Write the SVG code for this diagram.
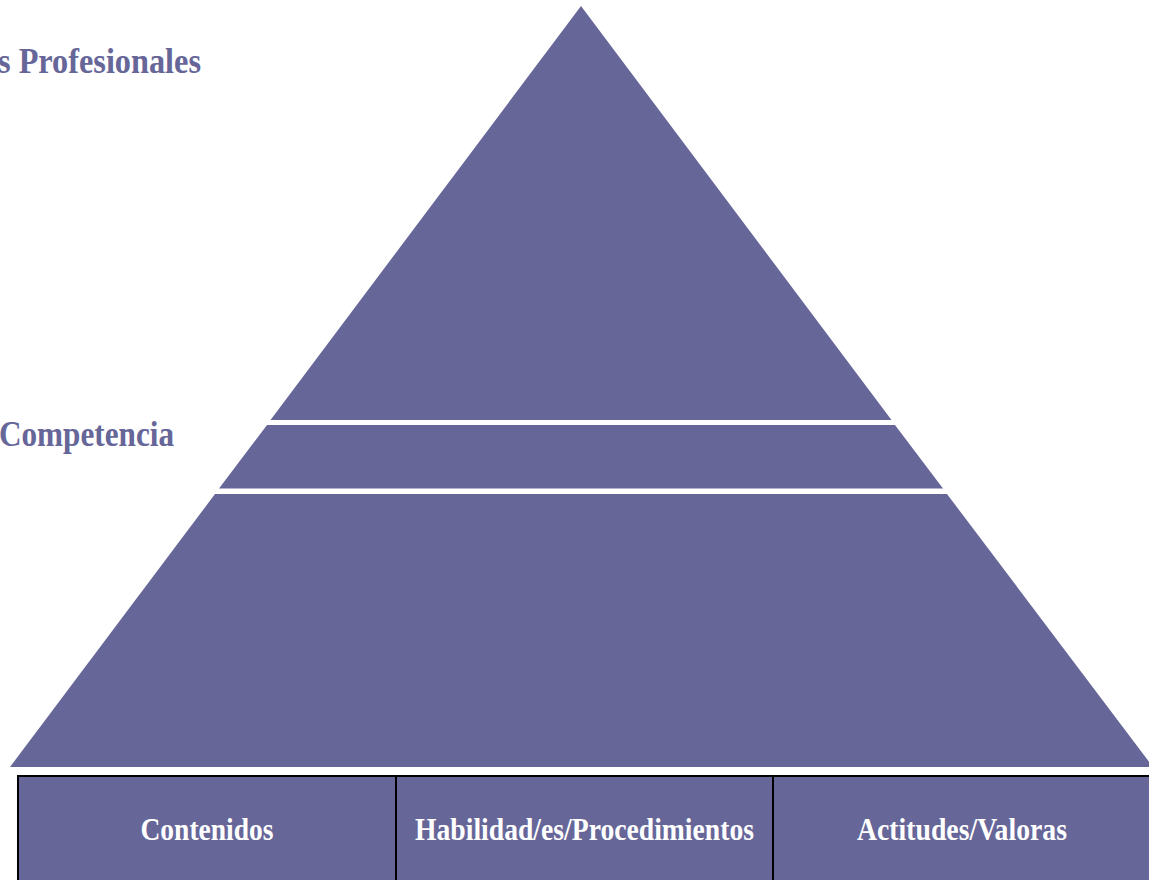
<svg xmlns="http://www.w3.org/2000/svg" width="1149" height="880" viewBox="0 0 1149 880">
<style>
.band{fill:#666699;}
.lbl{font-family:"Liberation Serif","Times New Roman",serif;font-weight:bold;fill:#666699;font-size:35px;}
.cell{fill:#666699;stroke:#000;stroke-width:2;}
.ct{font-family:"Liberation Serif","Times New Roman",serif;font-weight:bold;fill:#ffffff;font-size:31px;text-anchor:middle;}
</style>
<rect width="1149" height="880" fill="#ffffff"/>
<g id="label-profesionales"><text class="lbl" x="201" y="73" text-anchor="end" textLength="203" lengthAdjust="spacingAndGlyphs">s Profesionales</text></g>
<g id="label-competencia"><text class="lbl" x="174" y="446" text-anchor="end" textLength="175" lengthAdjust="spacingAndGlyphs">Competencia</text></g>
<g id="pyramid-top"><polygon class="band" points="581,6 891.5,420 270.5,420"/></g>
<g id="pyramid-middle"><polygon class="band" points="267,425 895,425 943,488.5 219,488.5"/></g>
<g id="pyramid-bottom"><polygon class="band" points="215,494 947,494 1153,767 10,767"/></g>
<g id="cell-contenidos">
<rect class="cell" x="18" y="776" width="378" height="120"/>
<text class="ct" x="207" y="840" textLength="133" lengthAdjust="spacingAndGlyphs">Contenidos</text>
</g>
<g id="cell-habilidades">
<rect class="cell" x="396" y="776" width="377" height="120"/>
<text class="ct" x="584.5" y="840" textLength="339" lengthAdjust="spacingAndGlyphs">Habilidad/es/Procedimientos</text>
</g>
<g id="cell-actitudes">
<rect class="cell" x="773" y="776" width="400" height="120"/>
<text class="ct" x="962" y="840" textLength="210" lengthAdjust="spacingAndGlyphs">Actitudes/Valoras</text>
</g>
<g id="connectors"></g>
</svg>
